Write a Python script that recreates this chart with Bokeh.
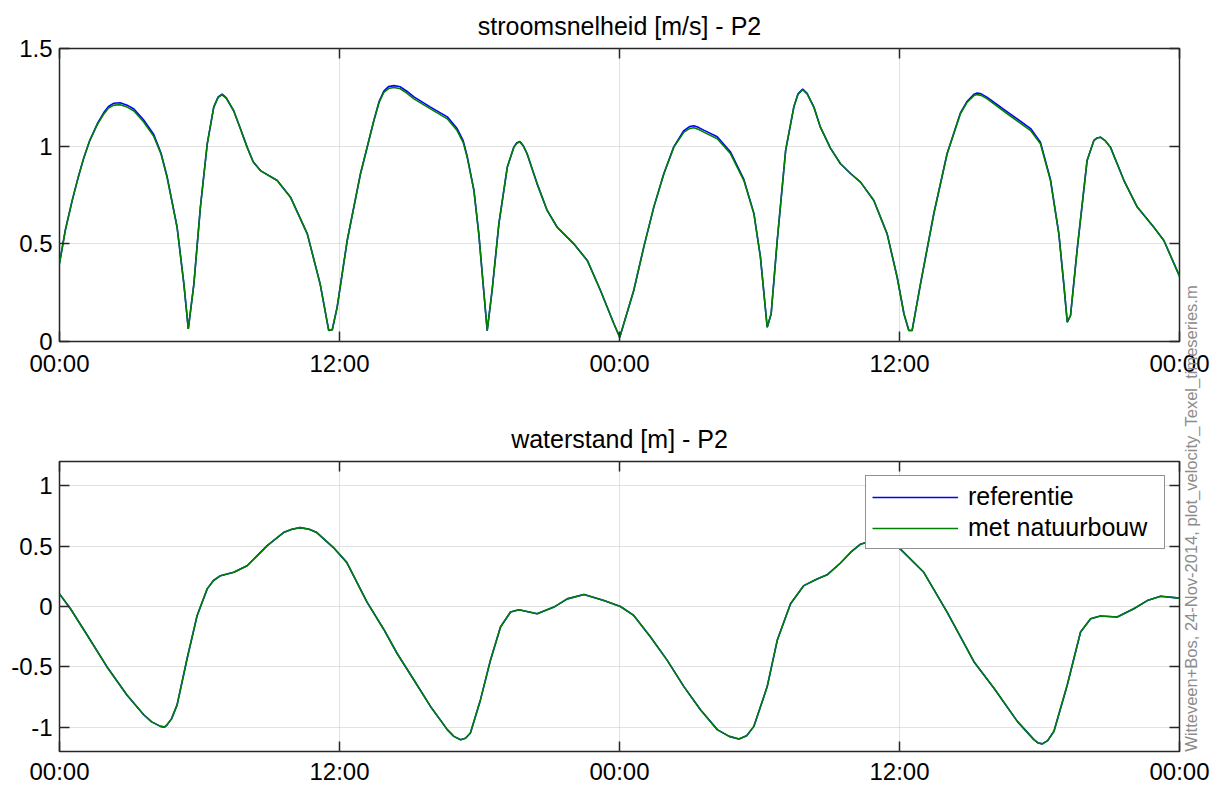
from math import pi
from bokeh.plotting import figure
from bokeh.models import Range1d, LinearAxis, Label, Legend, LegendItem, FixedTicker
from bokeh.layouts import column
from bokeh.embed import file_html
from bokeh.resources import INLINE

# ---------------- data ----------------
hours_speed = [0.0, 0.25, 0.54, 0.80, 1.04, 1.30, 1.62, 1.90, 2.10, 2.33,
               2.60, 2.90, 3.19, 3.60, 4.04, 4.35, 4.61, 5.04, 5.33, 5.52,
               5.76, 6.04, 6.33, 6.61, 6.80, 6.97, 7.15, 7.47, 7.75, 8.04,
               8.30, 8.61, 9.33, 9.90, 10.62, 11.17, 11.54, 11.69, 11.90, 12.33,
               12.90, 13.47, 13.70, 13.90, 14.10, 14.33, 14.61, 14.90, 15.19, 15.90,
               16.62, 17.04, 17.30, 17.47, 17.76, 17.97, 18.18, 18.33, 18.54, 18.83,
               19.19, 19.47, 19.60, 19.73, 19.88, 20.04, 20.47, 20.90, 21.33, 22.04,
               22.62, 23.19, 23.76, 24.01, 24.61, 25.04, 25.47, 25.90, 26.33, 26.76,
               27.00, 27.19, 27.40, 27.61, 28.19, 28.76, 29.33, 29.76, 30.04, 30.33,
               30.50, 30.76, 31.12, 31.47, 31.65, 31.85, 32.04, 32.33, 32.61, 33.04,
               33.47, 33.90, 34.33, 34.90, 35.47, 35.90, 36.19, 36.40, 36.54, 36.90,
               37.47, 38.04, 38.61, 38.90, 39.19, 39.33, 39.50, 39.76, 40.62, 41.62,
               42.04, 42.47, 42.83, 43.04, 43.19, 43.33, 43.61, 44.04, 44.33, 44.47,
               44.61, 44.80, 45.04, 45.62, 46.19, 46.90, 47.33, 48.00]
speed_new = [0.40, 0.57, 0.72, 0.84, 0.94, 1.03, 1.11, 1.165, 1.195, 1.21,
             1.212, 1.20, 1.18, 1.125, 1.05, 0.96, 0.84, 0.585, 0.295, 0.065,
             0.295, 0.69, 1.01, 1.20, 1.25, 1.263, 1.245, 1.18, 1.09, 0.995,
             0.92, 0.875, 0.824, 0.739, 0.551, 0.295, 0.056, 0.06, 0.176, 0.517,
             0.859, 1.13, 1.225, 1.275, 1.295, 1.30, 1.294, 1.27, 1.242, 1.191,
             1.140, 1.080, 1.02, 0.944, 0.773, 0.551, 0.261, 0.056, 0.261, 0.602,
             0.892, 0.995, 1.015, 1.021, 1.0, 0.961, 0.807, 0.671, 0.585, 0.50,
             0.415, 0.26, 0.091, 0.022, 0.261, 0.483, 0.688, 0.859, 0.995, 1.072,
             1.09, 1.094, 1.085, 1.072, 1.038, 0.961, 0.824, 0.654, 0.432, 0.073,
             0.142, 0.517, 0.978, 1.20, 1.265, 1.289, 1.268, 1.20, 1.097, 0.99,
             0.91, 0.86, 0.816, 0.722, 0.551, 0.329, 0.142, 0.056, 0.056, 0.295,
             0.654, 0.961, 1.166, 1.225, 1.259, 1.264, 1.26, 1.242, 1.166, 1.080,
             1.012, 0.824, 0.551, 0.295, 0.099, 0.133, 0.466, 0.927, 1.029, 1.042,
             1.046, 1.03, 0.995, 0.824, 0.688, 0.585, 0.517, 0.335]
speed_ref = [0.40, 0.57, 0.72, 0.84, 0.94, 1.03, 1.115, 1.172, 1.203, 1.22,
             1.222, 1.21, 1.19, 1.135, 1.06, 0.965, 0.845, 0.585, 0.295, 0.065,
             0.295, 0.69, 1.01, 1.20, 1.252, 1.266, 1.247, 1.18, 1.09, 0.995,
             0.92, 0.875, 0.824, 0.739, 0.551, 0.295, 0.056, 0.06, 0.176, 0.517,
             0.859, 1.13, 1.23, 1.282, 1.305, 1.31, 1.304, 1.28, 1.252, 1.20,
             1.15, 1.09, 1.028, 0.95, 0.775, 0.551, 0.261, 0.056, 0.261, 0.602,
             0.892, 0.995, 1.018, 1.024, 1.002, 0.961, 0.807, 0.671, 0.585, 0.50,
             0.415, 0.26, 0.091, 0.022, 0.261, 0.483, 0.688, 0.859, 0.998, 1.08,
             1.10, 1.105, 1.095, 1.082, 1.048, 0.97, 0.83, 0.656, 0.432, 0.073,
             0.142, 0.517, 0.978, 1.20, 1.268, 1.292, 1.27, 1.20, 1.097, 0.99,
             0.91, 0.86, 0.816, 0.722, 0.551, 0.329, 0.142, 0.056, 0.056, 0.295,
             0.654, 0.961, 1.17, 1.23, 1.266, 1.272, 1.268, 1.25, 1.176, 1.09,
             1.02, 0.83, 0.551, 0.295, 0.099, 0.133, 0.466, 0.927, 1.029, 1.042,
             1.046, 1.03, 0.995, 0.824, 0.688, 0.585, 0.517, 0.335]

hours_wl = [0.0, 0.47, 1.19, 2.03, 2.89, 3.61, 3.95, 4.33, 4.50, 4.61,
            4.80, 5.04, 5.47, 5.90, 6.33, 6.60, 6.90, 7.47, 8.04, 8.89,
            9.60, 9.96, 10.32, 10.70, 11.03, 11.74, 12.31, 13.18, 13.90, 14.47,
            15.19, 15.90, 16.62, 16.90, 17.19, 17.40, 17.61, 18.04, 18.47, 18.90,
            19.33, 19.69, 20.47, 21.19, 21.76, 22.48, 23.33, 24.04, 24.61, 25.33,
            26.04, 26.76, 27.47, 28.19, 28.70, 29.12, 29.45, 29.76, 30.33, 30.76,
            31.33, 31.90, 32.47, 32.90, 33.47, 33.90, 34.33, 34.90, 35.40, 36.04,
            37.04, 38.04, 39.19, 40.05, 41.05, 41.76, 41.95, 42.12, 42.35, 42.62,
            43.19, 43.76, 44.19, 44.61, 45.33, 46.04, 46.62, 47.19, 48.00]
wl_new = [0.104, -0.019, -0.238, -0.498, -0.732, -0.896, -0.955, -0.992, -0.998, -0.979,
          -0.93, -0.814, -0.430, -0.074, 0.146, 0.215, 0.255, 0.283, 0.337, 0.502,
          0.612, 0.64, 0.653, 0.64, 0.612, 0.488, 0.365, 0.036, -0.19, -0.389,
          -0.608, -0.827, -1.019, -1.075, -1.102, -1.09, -1.047, -0.773, -0.444, -0.170,
          -0.046, -0.027, -0.06, -0.005, 0.063, 0.099, 0.049, 0.0, -0.074, -0.252,
          -0.444, -0.663, -0.855, -1.019, -1.075, -1.096, -1.07, -0.992, -0.663, -0.280,
          0.022, 0.173, 0.228, 0.262, 0.36, 0.447, 0.516, 0.55, 0.54, 0.475,
          0.283, -0.046, -0.457, -0.677, -0.951, -1.102, -1.13, -1.137, -1.11, -1.033,
          -0.650, -0.211, -0.101, -0.079, -0.087, -0.019, 0.049, 0.085, 0.069]
# the reference water level lies exactly under the new one in the picture
wl_ref = [0.104, -0.019, -0.238, -0.498, -0.732, -0.896, -0.955, -0.992, -0.998, -0.979,
          -0.93, -0.814, -0.430, -0.074, 0.146, 0.215, 0.255, 0.283, 0.337, 0.502,
          0.612, 0.64, 0.653, 0.64, 0.612, 0.488, 0.365, 0.036, -0.19, -0.389,
          -0.608, -0.827, -1.019, -1.075, -1.102, -1.09, -1.047, -0.773, -0.444, -0.170,
          -0.046, -0.027, -0.06, -0.005, 0.063, 0.099, 0.049, 0.0, -0.074, -0.252,
          -0.444, -0.663, -0.855, -1.019, -1.075, -1.096, -1.07, -0.992, -0.663, -0.280,
          0.022, 0.173, 0.228, 0.262, 0.36, 0.447, 0.516, 0.55, 0.54, 0.475,
          0.283, -0.046, -0.457, -0.677, -0.951, -1.102, -1.13, -1.137, -1.11, -1.033,
          -0.650, -0.211, -0.101, -0.079, -0.087, -0.019, 0.049, 0.085, 0.069]

x_ticks = [0, 12, 24, 36, 48]
x_tick_labels = ["00:00", "12:00", "00:00", "12:00", "00:00"]
speed_ticks = [0, 0.5, 1, 1.5]
speed_tick_labels = ["0", "0.5", "1", "1.5"]
wl_ticks = [-1, -0.5, 0, 0.5, 1]
wl_tick_labels = ["-1", "-0.5", "0", "0.5", "1"]

titles = ["stroomsnelheid [m/s] - P2", "waterstand [m] - P2"]
series_names = ["referentie", "met natuurbouw"]
stamp = "Witteveen+Bos, 24-Nov-2014, plot_velocity_Texel_timeseries.m"

# ---------------- styling ----------------
FONT = "Liberation Sans"
AX = "#262626"
BLUE = "#0000ff"
GREEN = "#008000"


def make_fig(height, yr, yticks, ylabels, title, b_top, b_bottom, x_standoff, t_standoff):
    p = figure(width=1211, height=height, x_range=Range1d(0, 48), y_range=Range1d(*yr),
               output_backend="svg", toolbar_location=None,
               min_border_left=59, min_border_right=32,
               min_border_top=b_top, min_border_bottom=b_bottom)
    p.title.text = title
    p.title.align = "center"
    p.title.text_font = FONT
    p.title.text_font_size = "25px"
    p.title.text_font_style = "normal"
    p.title.text_color = "#000000"
    p.title.standoff = t_standoff
    p.outline_line_color = AX
    p.outline_line_width = 1.5
    p.outline_line_alpha = 1
    for ax, ticks, labels in ((p.xaxis[0], x_ticks, x_tick_labels), (p.yaxis[0], yticks, ylabels)):
        ax.ticker = FixedTicker(ticks=ticks)
        ax.major_label_overrides = dict(zip(ticks, labels))
        ax.major_label_text_font = FONT
        ax.major_label_text_font_size = "24px"
        ax.major_label_text_color = "#000000"
        ax.major_tick_in = 10
        ax.major_tick_out = 0
        ax.major_tick_line_color = AX
        ax.major_tick_line_width = 1.5
        ax.minor_tick_line_color = None
        ax.axis_line_color = None
    p.xaxis[0].major_label_standoff = x_standoff
    p.yaxis[0].major_label_standoff = 7
    # mirrored tick marks on the top and right edges (no labels)
    for ticks, side in ((x_ticks, "above"), (yticks, "right")):
        ax = LinearAxis(ticker=FixedTicker(ticks=ticks), major_label_text_font_size="1px",
                        major_label_text_color=None,
                        major_label_standoff=0, major_tick_in=10, major_tick_out=0,
                        major_tick_line_color=AX, major_tick_line_width=1.5,
                        minor_tick_line_color=None, axis_line_color=None)
        p.add_layout(ax, side)
    p.xgrid[0].ticker = FixedTicker(ticks=x_ticks)
    p.ygrid[0].ticker = FixedTicker(ticks=yticks)
    for g in (p.xgrid[0], p.ygrid[0]):
        g.grid_line_color = "#c4c4c4"
        g.grid_line_dash = "1 1"
        g.grid_line_width = 1
    return p


p1 = make_fig(408, (0, 1.5), speed_ticks, speed_tick_labels, titles[0], 48, 67, 8, 17)
p1.line(hours_speed, speed_ref, line_color=BLUE, line_width=1.6)
p1.line(hours_speed, speed_new, line_color=GREEN, line_width=1.6)

p2 = make_fig(517, (-1.2, 1.2), wl_ticks, wl_tick_labels, titles[1], 191, 33, 6, 17)
p2.border_fill_alpha = 0
r_ref = p2.line(hours_wl, wl_ref, line_color=BLUE, line_width=1.6)
r_new = p2.line(hours_wl, wl_new, line_color=GREEN, line_width=1.6)

legend = Legend(items=[LegendItem(label=series_names[0], renderers=[r_ref]),
                       LegendItem(label=series_names[1], renderers=[r_new])],
                location="top_right", margin=14, padding=6, spacing=2, label_standoff=10,
                glyph_width=86, glyph_height=20, label_width=190,
                label_text_font=FONT, label_text_font_size="25px", label_text_color="#000000",
                border_line_color=AX, border_line_width=1.5, background_fill_alpha=1)
p2.add_layout(legend)
p2.margin = (-138, 0, 0, 0)

# transparent strip that carries the vertical stamp, laid over the right edge
p3 = figure(width=50, height=470, x_range=Range1d(0, 1), y_range=Range1d(0, 1),
            x_axis_type=None, y_axis_type=None, output_backend="svg", toolbar_location=None,
            min_border=0)
p3.grid.visible = False
p3.outline_line_color = None
p3.background_fill_alpha = 0
p3.border_fill_alpha = 0
p3.add_layout(Label(x=0.5, y=0.5, text=stamp, angle=pi / 2, text_align="center",
                    text_baseline="middle", text_font=FONT, text_font_size="16.5px",
                    text_color="#8c8c8c"))
p3.margin = (-504, 0, 0, 1152)

layout = column(p1, p2, p3)

open("out.html", "w").write(file_html(layout, INLINE, "plot"))
